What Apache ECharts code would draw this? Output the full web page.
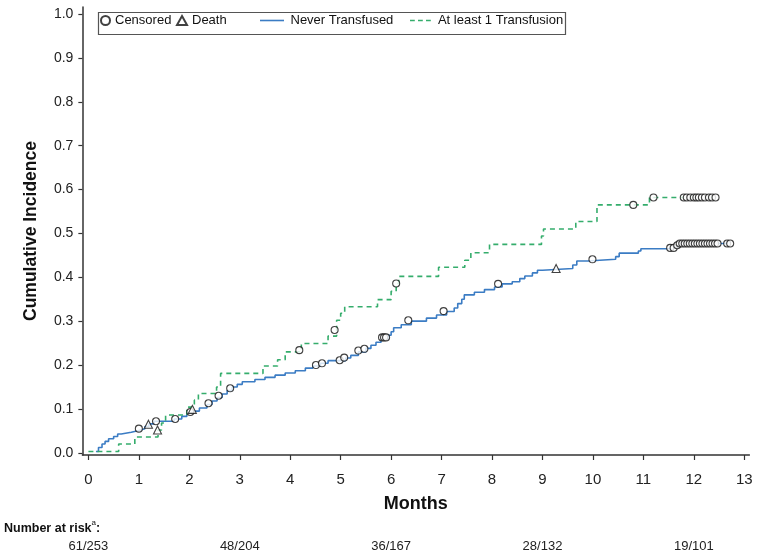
<!DOCTYPE html>
<html>
<head>
<meta charset="utf-8">
<script src="https://cdn.jsdelivr.net/npm/echarts@6/dist/echarts.min.js"></script>
<style>html,body{margin:0;padding:0;background:#fff;}#c{width:759px;height:551px;}</style>
</head>
<body>
<div id="c"></div>
<script>
// ---- data ----
const neverTransfused = [
  [0.15,0.003],[0.2,0.012],[0.27,0.02],[0.33,0.026],[0.4,0.032],[0.5,0.037],[0.58,0.043],[0.65,0.047],
  [0.85,0.051],[1.0,0.055],[1.12,0.06],[1.2,0.066],[1.3,0.072],[1.7,0.077],[1.85,0.083],[1.95,0.09],
  [2.05,0.095],[2.2,0.102],[2.35,0.11],[2.45,0.118],[2.55,0.126],[2.65,0.134],[2.75,0.142],[2.85,0.15],
  [2.95,0.156],[3.05,0.162],[3.3,0.167],[3.5,0.172],[3.7,0.177],[3.9,0.182],[4.1,0.187],[4.3,0.193],
  [4.45,0.198],[4.6,0.204],[4.75,0.21],[5.1,0.216],[5.2,0.222],[5.35,0.23],[5.5,0.238],[5.6,0.245],
  [5.7,0.252],[5.8,0.26],[5.95,0.268],[6.0,0.276],[6.05,0.285],[6.2,0.292],[6.4,0.3],[6.7,0.307],
  [6.9,0.314],[7.1,0.322],[7.25,0.33],[7.32,0.34],[7.4,0.35],[7.45,0.36],[7.65,0.366],[7.85,0.372],
  [8.05,0.378],[8.2,0.385],[8.4,0.39],[8.55,0.397],[8.65,0.403],[8.8,0.41],[8.9,0.416],[9.0,0.42],
  [9.6,0.428],[9.68,0.437],[9.9,0.441],[10.45,0.447],[10.52,0.455],[10.9,0.46],[10.95,0.465],
  [11.6,0.47],[11.7,0.477],[12.72,0.477]
];
const atLeastOne = [
  [0,0.003],[0.6,0.02],[0.92,0.036],[1.38,0.052],[1.45,0.068],[1.53,0.086],[1.95,0.104],[2.1,0.12],
  [2.18,0.135],[2.54,0.15],[2.62,0.181],[3.46,0.198],[3.75,0.212],[3.9,0.23],[4.22,0.249],[4.75,0.266],
  [4.92,0.302],[5.0,0.318],[5.08,0.333],[5.73,0.349],[6.0,0.368],[6.1,0.386],[6.15,0.402],[6.94,0.423],
  [7.46,0.439],[7.58,0.456],[7.95,0.475],[8.98,0.494],[9.02,0.51],[9.66,0.527],[10.08,0.565],
  [11.12,0.582],[12.45,0.582]
];
const censored = [
  [1.0,0.055],[1.34,0.072],[1.72,0.077],[2.02,0.093],[2.38,0.113],[2.58,0.13],[2.81,0.147],
  [4.51,0.2],[4.63,0.204],[4.98,0.211],[5.07,0.217],[5.35,0.233],[5.47,0.237],[5.82,0.263],[5.86,0.263],
  [5.9,0.263],[6.34,0.302],[7.04,0.323],[8.12,0.385],[9.99,0.441],[11.53,0.467],[11.6,0.467],[11.67,0.473],
  [11.72,0.477],[11.77,0.477],[11.82,0.477],[11.87,0.477],[11.92,0.477],[11.97,0.477],[12.02,0.477],
  [12.07,0.477],[12.12,0.477],[12.17,0.477],[12.22,0.477],[12.27,0.477],[12.32,0.477],[12.37,0.477],
  [12.42,0.477],[12.47,0.477],[12.66,0.477],[12.72,0.477],
  [4.18,0.234],[4.88,0.28],[6.1,0.386],[10.8,0.565],[11.2,0.582],
  [11.8,0.582],[11.86,0.582],[11.93,0.582],[12.0,0.582],[12.05,0.582],[12.1,0.582],[12.16,0.582],
  [12.22,0.582],[12.3,0.582],[12.36,0.582],[12.43,0.582]
];
const deaths = [[1.19,0.065],[2.06,0.099],[1.37,0.052],[9.27,0.42]];
const xTicks = [0,1,2,3,4,5,6,7,8,9,10,11,12,13];
const yTicks = [0,0.1,0.2,0.3,0.4,0.5,0.6,0.7,0.8,0.9,1.0];
const riskMonths = [0,3,6,9,12];
const riskLabels = ['61/253','48/204','36/167','28/132','19/101'];
const seriesNames = ['Censored','Death','Never Transfused','At least 1 Transfusion'];

const FONT = 'Liberation Sans, Arial, Helvetica, sans-serif';
const chart = echarts.init(document.getElementById('c'), null, {renderer:'canvas'});
const axisCol = '#333';
const blue = '#3b7cc4', green = '#35ad6c';
const legendText = {fontFamily:FONT, fontSize:13, color:'#111'};

const option = {
  animation:false,
  backgroundColor:'#fff',
  grid:{left:82.35, top:7, width:667, height:448, outerBoundsMode:'none'},
  xAxis:[
    {type:'value', min:-0.12, max:13.1,
     axisLine:{show:true, onZero:false, lineStyle:{color:axisCol, width:1.5}},
     axisTick:{show:true, length:5, customValues:xTicks, lineStyle:{color:axisCol, width:1.2}},
     axisLabel:{customValues:xTicks, fontFamily:FONT, fontSize:15, color:'#222', margin:17},
     splitLine:{show:false},
     name:'Months', nameLocation:'middle', nameGap:40,
     nameTextStyle:{fontFamily:FONT, fontSize:18, fontWeight:'bold', color:'#111'}},
    {type:'value', min:-0.12, max:13.1, offset:80, position:'bottom',
     axisLine:{show:false, onZero:false}, axisTick:{show:false}, splitLine:{show:false},
     axisLabel:{customValues:riskMonths, fontFamily:FONT, fontSize:13, color:'#222', margin:5,
       formatter:function(v){const i=riskMonths.indexOf(v); return i>=0?riskLabels[i]:'';}}}
  ],
  yAxis:[
    {type:'value', min:-0.005, max:1.016,
     axisLine:{show:true, onZero:false, lineStyle:{color:axisCol, width:1.5}},
     axisTick:{show:true, length:4, customValues:yTicks, lineStyle:{color:axisCol, width:1.2}},
     axisLabel:{customValues:yTicks, fontFamily:FONT, fontSize:14, color:'#222', margin:9, formatter:v=>v.toFixed(1)},
     splitLine:{show:false},
     name:'Cumulative Incidence', nameLocation:'middle', nameGap:42,
     nameTextStyle:{fontFamily:FONT, fontSize:17.5, fontWeight:'bold', color:'#111'}}
  ],
  legend:[
    {left:100, top:14, padding:0, itemWidth:9, itemHeight:9, itemGap:0, textStyle:legendText,
     data:[{name:seriesNames[0], icon:'circle'}]},
    {left:176, top:14, padding:0, itemWidth:10, itemHeight:9, itemGap:0, textStyle:legendText,
     data:[{name:seriesNames[1], icon:'triangle'}]},
    {left:260, top:14, padding:0, itemWidth:27, itemHeight:1.6, itemGap:0, textStyle:legendText,
     data:[{name:seriesNames[2], icon:'path://M0,0H30V2H0Z', itemStyle:{color:blue}}]},
    {left:410, top:14, padding:0, itemWidth:25, itemHeight:1.6, itemGap:0, textStyle:legendText,
     data:[{name:seriesNames[3], icon:'path://M0,0H6V2H0Z M10,0H16V2H10Z M20,0H26V2H20Z', itemStyle:{color:green}}]}
  ],
  graphic:[
    {type:'rect', left:96, top:10, shape:{width:467, height:22},
     style:{fill:'none', stroke:'#555', lineWidth:1.2}, silent:true},
    {type:'text', left:4, top:519,
     style:{text:'{b|Number at risk}{s|a}{b|:}', fontFamily:FONT,
       rich:{b:{fontFamily:FONT, fontSize:12.5, fontWeight:'bold', fill:'#111', verticalAlign:'bottom'},
             s:{fontFamily:FONT, fontSize:8, fill:'#111', verticalAlign:'top', padding:[0,0,8,0]}}}}
  ],
  series:[
    {name:seriesNames[2], type:'line', step:'end', symbol:'none',
     data:neverTransfused, lineStyle:{color:blue, width:1.6}, itemStyle:{color:blue}, z:2},
    {name:seriesNames[3], type:'line', step:'end', symbol:'none',
     data:atLeastOne, lineStyle:{color:green, width:1.6, type:[5,4]}, itemStyle:{color:green}, z:2},
    {name:seriesNames[0], type:'scatter', symbol:'circle', symbolSize:7,
     data:censored, itemStyle:{color:'#fff', borderColor:'#111', borderWidth:1.1}, z:3},
    {name:seriesNames[1], type:'scatter', symbol:'triangle', symbolSize:8,
     data:deaths, itemStyle:{color:'#fff', borderColor:'#111', borderWidth:1.1}, z:4}
  ]
};
chart.setOption(option);
</script>
</body>
</html>
